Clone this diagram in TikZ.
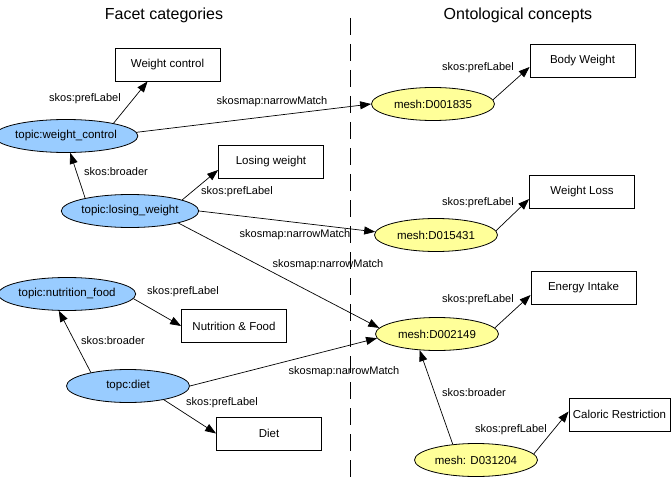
\documentclass[tikz,border=0pt]{standalone}
\usepackage{fontspec}
\setmainfont{Liberation Sans}
\usetikzlibrary{shapes.geometric,arrows.meta,calc}
\definecolor{facetblue}{RGB}{153,204,255}
\definecolor{conceptyellow}{RGB}{255,255,153}
\begin{document}
\begin{tikzpicture}[x=1pt,y=-1pt,
  topicnode/.style={ellipse,draw,line width=0.8pt,fill=facetblue,minimum width=123pt,minimum height=33pt,inner sep=0pt,font=\fontsize{11.5}{13}\selectfont},
  meshnode/.style={ellipse,draw,line width=0.8pt,fill=conceptyellow,minimum width=123pt,minimum height=33pt,inner sep=0pt,font=\fontsize{11.5}{13}\selectfont},
  labelbox/.style={rectangle,draw,line width=0.8pt,fill=white,minimum width=105pt,minimum height=33pt,inner sep=0pt,font=\fontsize{11.5}{13}\selectfont},
  edgelabel/.style={inner sep=0pt,font=\fontsize{11}{13}\selectfont},
  titletext/.style={inner sep=0pt,font=\fontsize{16}{18}\selectfont},
  arr/.style={-{Triangle[length=11pt,width=8pt]},line width=0.7pt}
]
\useasboundingbox (0,0) rectangle (671,481);

% titles and separator
\node[titletext] (t1) at (164,15) {Facet categories};
\node[titletext] (t2) at (518,15) {Ontological concepts};
\coordinate (sepTop) at (350,18);
\coordinate (sepBot) at (350,481);
\draw[line width=1pt,dash pattern=on 17pt off 9pt] (sepTop) -- (sepBot);

% facet nodes
\node[topicnode] (wc) at (66,136) {topic:weight\_control};
\node[topicnode] (lw) at (130,211) {topic:losing\_weight};
\node[topicnode] (nf) at (67,294) {topic:nutrition\_food};
\node[topicnode] (diet) at (128,386) {topc:diet};

\node[labelbox] (wcbox) at (167.5,64.5) {Weight control};
\node[labelbox] (lwbox) at (271,161.5) {Losing weight};
\node[labelbox] (nfbox) at (234,326) {Nutrition \& Food};
\node[labelbox] (dietbox) at (269,433.5) {Diet};

% concept nodes
\node[meshnode] (d1835) at (433,104) {mesh:D001835};
\node[meshnode] (d15431) at (436,235) {mesh:D015431};
\node[meshnode] (d2149) at (437,334) {mesh:D002149};
\node[meshnode] (d31204) at (476,460) {mesh: D031204};

\node[labelbox] (bwbox) at (582.5,60.5) {Body Weight};
\node[labelbox] (wlbox) at (582,192) {Weight Loss};
\node[labelbox] (eibox) at (583.5,287.5) {Energy Intake};
\node[labelbox,minimum width=101pt] (crbox) at (619.5,414.5) {Caloric Restriction};

% edges
\draw[arr] (wc.15) -- ([xshift=33pt]wcbox.south west);
\draw[arr] (wc.3) -- (d1835.west);
\draw[arr] (lw.164) -- (wc.284);
\draw[arr] (lw.12) -- ([yshift=-8.5pt]lwbox.west);
\draw[arr] (lw.east) -- (d15431.177);
\draw[arr] (lw.346) -- (d2149.174);
\draw[arr] (nf.-4) -- (nfbox.west);
\draw[arr] (diet.160) -- (nf.244);
\draw[arr] (diet.east) -- (d2149.184);
\draw[arr] (diet.339) -- (dietbox.west);
\draw[arr] (d1835.4) -- ([yshift=-6.5pt]bwbox.west);
\draw[arr] (d15431.4) -- ([yshift=-7pt]wlbox.west);
\draw[arr] (d2149.6) -- ([yshift=-7.5pt]eibox.west);
\draw[arr] (d31204.146) -- (d2149.223);
\draw[arr] (d31204.6) -- ([yshift=3pt]crbox.west);

% edge labels
\node[edgelabel] (l1) at (85,99) {skos:prefLabel};
\node[edgelabel] (l2) at (272,102) {skosmap:narrowMatch};
\node[edgelabel] (l3) at (116,172) {skos:broader};
\node[edgelabel] (l4) at (237,192) {skos:prefLabel};
\node[edgelabel] (l5) at (295,235) {skosmap:narrowMatch};
\node[edgelabel] (l6) at (328,265) {skosmap:narrowMatch};
\node[edgelabel] (l7) at (183,292) {skos:prefLabel};
\node[edgelabel] (l8) at (113,341) {skos:broader};
\node[edgelabel] (l9) at (344,372) {skosmap:narrowMatch};
\node[edgelabel] (l10) at (222,403) {skos:prefLabel};
\node[edgelabel] (l11) at (478,68) {skos:prefLabel};
\node[edgelabel] (l12) at (478,203) {skos:prefLabel};
\node[edgelabel] (l13) at (478,300) {skos:prefLabel};
\node[edgelabel] (l14) at (474,393) {skos:broader};
\node[edgelabel] (l15) at (511,430) {skos:prefLabel};
\end{tikzpicture}
\end{document}
